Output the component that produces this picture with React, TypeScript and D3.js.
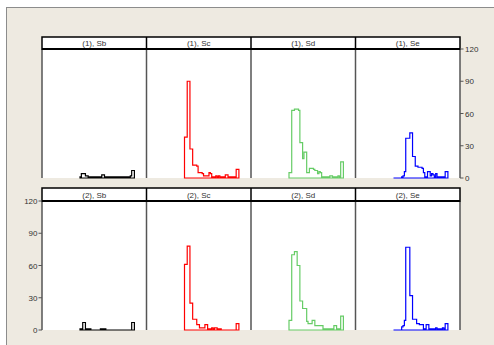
import React from "react";
import * as d3 from "d3";

// ---- data (40 bins per panel, counts) ----
const groups = ["(1)", "(2)"];
const series = ["Sb", "Sc", "Sd", "Se"];
const seriesColors = ["#000000", "#ff0000", "#66cc66", "#0000ff"];
const yTicks = [0, 30, 60, 90, 120];

const sb1 = [1,4,4,4,2,2,1,1,1,1,1,1,1,1,1,1,3,3,1,1,1,1,1,1,1,1,1,1,1,1,1,1,1,1,1,1,1,2,7,7];
const sc1 = [38,38,90,90,27,27,12,12,12,11,5,5,5,4,2,2,2,2,5,4,1,1,1,2,1,2,1,1,1,1,3,3,1,1,1,1,1,1,8,8];
const sd1 = [5,5,63,63,64,64,64,63,33,33,18,24,24,5,5,9,9,9,8,7,7,4,6,5,1,1,1,1,1,1,2,2,1,1,1,1,2,1,15,15];
const se1 = [0,0,0,0,0,0,1,2,6,37,37,37,42,42,20,20,11,11,10,10,10,9,5,1,1,6,6,2,4,3,1,4,1,1,1,1,1,1,6,6];
const sb2 = [1,1,7,7,1,1,1,1,0,0,0,0,0,0,0,1,1,1,1,0,0,0,0,0,0,0,0,0,0,0,0,0,0,0,0,0,0,0,7,7];
const sc2 = [61,61,78,78,25,25,10,10,10,5,5,2,2,2,2,5,5,1,1,1,2,1,2,2,1,1,1,0,0,0,0,0,0,0,0,0,0,0,6,6];
const sd2 = [9,9,70,70,73,73,60,60,27,27,20,20,20,8,6,6,6,9,9,4,4,4,4,4,4,1,1,1,1,1,1,1,1,4,4,1,1,1,13,13];
const se2 = [0,0,0,0,0,0,3,4,9,77,77,77,32,32,10,10,10,6,6,5,5,5,1,1,5,5,1,1,1,1,1,2,1,1,1,1,2,1,6,6];

const rowData = [
  [sb1, sc1, sd1, se1],
  [sb2, sc2, sd2, se2],
];

// ---- layout ----
const W = 494;
const H = 345;
const left = 42;
const right = 460;
const panelW = (right - left) / 4;
const rows = [
  { stripTop: 37, plotTop: 49, plotBottom: 178 },
  { stripTop: 188, plotTop: 201, plotBottom: 330 },
];
const font = "'Liberation Sans', Arial, sans-serif";

function histPath(vals: number[], x: d3.ScaleLinear<number, number>, y: d3.ScaleLinear<number, number>) {
  const p = d3.path();
  p.moveTo(x(0), y(0));
  vals.forEach((v, i) => {
    p.lineTo(x(i), y(v));
    p.lineTo(x(i + 1), y(v));
  });
  p.lineTo(x(vals.length), y(0));
  p.closePath();
  return p.toString();
}

export default function App() {
  return (
    <svg width={W} height={H} style={{ position: "absolute", left: 0, top: 0, display: "block" }}>
      <rect x={0} y={0} width={W} height={H} fill="#ffffff" />
      <rect x={6} y={7} width={W - 6} height={H - 7} fill="#eeeae1" />
      <line x1={6} y1={7.5} x2={W} y2={7.5} stroke="#8c8c8c" strokeWidth={1} />
      <line x1={6.5} y1={7} x2={6.5} y2={H} stroke="#8c8c8c" strokeWidth={1} />

      {rows.map((r, ri) => {
        const y = d3.scaleLinear().domain([0, 120]).range([r.plotBottom, r.plotTop]);
        const stripH = r.plotTop - r.stripTop;
        return (
          <g key={ri}>
            <rect x={left} y={r.stripTop} width={right - left} height={r.plotBottom - r.stripTop} fill="#ffffff" />
            {series.map((s, ci) => {
              const x0 = left + ci * panelW;
              const x = d3.scaleLinear().domain([0, 40]).range([x0 + 38, x0 + 92.4]);
              return (
                <g key={s}>
                  <path
                    d={histPath(rowData[ri][ci], x, y)}
                    fill="none"
                    stroke={seriesColors[ci]}
                    strokeWidth={1.2}
                    strokeLinejoin="miter"
                  />
                  <text
                    x={x0 + panelW / 2}
                    y={r.stripTop + stripH / 2 + 3}
                    textAnchor="middle"
                    fontFamily={font}
                    fontSize={8}
                    fill="#333"
                  >
                    {groups[ri]}, {s}
                  </text>
                </g>
              );
            })}
            {d3.range(5).map((i) => (
              <line
                key={i}
                x1={left + i * panelW}
                x2={left + i * panelW}
                y1={r.plotTop}
                y2={r.plotBottom}
                stroke="#555"
                strokeWidth={1.5}
              />
            ))}
            <rect x={left} y={r.stripTop} width={right - left} height={stripH} fill="none" stroke="#000" strokeWidth={1.5} />
            <line x1={left} x2={right} y1={r.plotTop} y2={r.plotTop} stroke="#000" strokeWidth={2} />
            {d3.range(1, 4).map((i) => (
              <line
                key={i}
                x1={left + i * panelW}
                x2={left + i * panelW}
                y1={r.stripTop}
                y2={r.plotTop}
                stroke="#000"
                strokeWidth={1.5}
              />
            ))}
            {yTicks.map((t) => {
              const yy = y(t);
              if (ri === 0) {
                return (
                  <g key={t}>
                    <line x1={right} x2={right + 3.5} y1={yy} y2={yy} stroke="#555" strokeWidth={1} />
                    <text x={right + 5} y={yy + 3} fontFamily={font} fontSize={8} fill="#333">
                      {t}
                    </text>
                  </g>
                );
              }
              return (
                <g key={t}>
                  <line x1={left - 3.5} x2={left} y1={yy} y2={yy} stroke="#555" strokeWidth={1} />
                  <text x={left - 4.5} y={yy + 3} textAnchor="end" fontFamily={font} fontSize={8} fill="#333">
                    {t}
                  </text>
                </g>
              );
            })}
          </g>
        );
      })}
    </svg>
  );
}
